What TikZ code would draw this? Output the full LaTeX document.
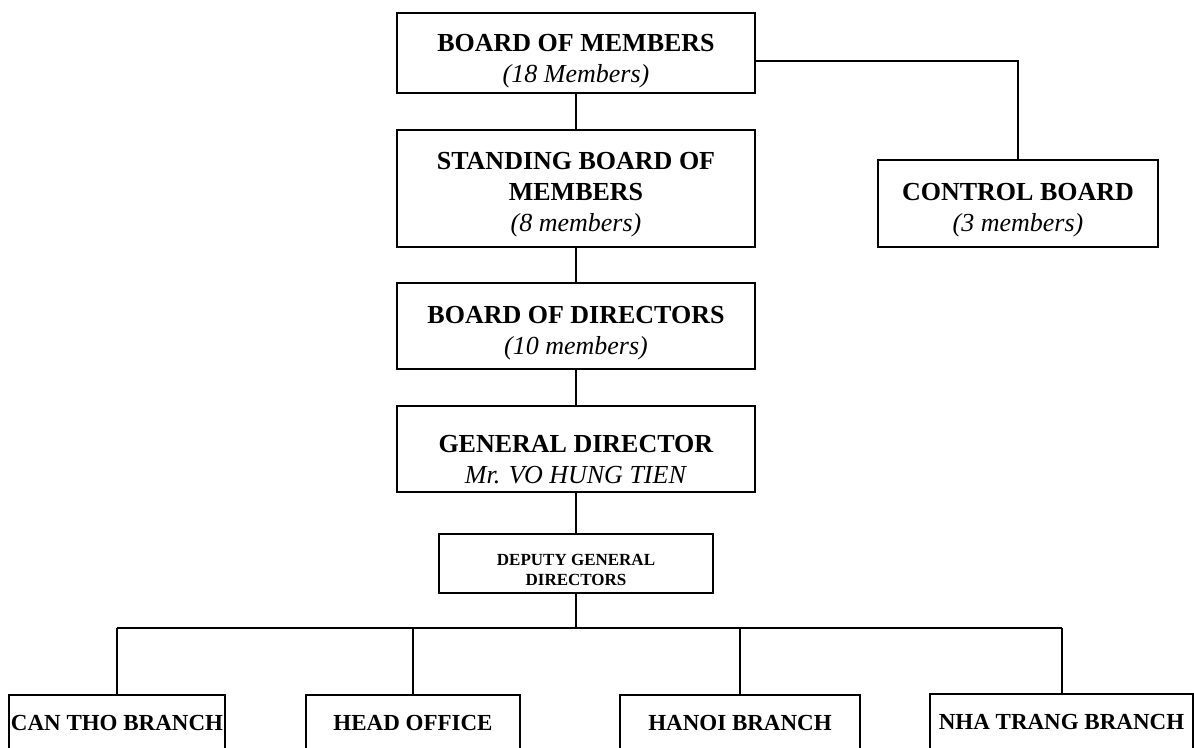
\documentclass[tikz,border=0pt]{standalone}
\usepackage{fontspec}
\setmainfont{Liberation Serif}
\usepackage{tikz}
\usetikzlibrary{positioning}

% strut that pushes the box text a little down
\newcommand{\boxgap}[1][17pt]{\rule{0pt}{#1}}

\tikzset{
	boardbox/.style={draw, line width=1pt, inner sep=0pt, align=center, minimum width=179pt, font=\fontsize{13}{15.5}\selectfont},
	branchbox/.style={draw, line width=1pt, inner sep=0pt, align=center, minimum height=28pt, font=\fontsize{11.5}{13}\selectfont\bfseries},
	link/.style={line width=1pt}
}

\begin{document}
\begin{tikzpicture}[x=0.5pt,y=-0.5pt]
		\clip (0,0) rectangle (1194,748);
		\fill[white] (0,0) rectangle (1194,748);

		\node[boardbox, minimum height=40pt] (bom) at (576,53) {\boxgap\textbf{BOARD OF MEMBERS}\\\textit{(18 Members)}};
		\node[boardbox, minimum height=58.5pt] (sbm) at (576,188.5) {\boxgap[15pt]\textbf{STANDING BOARD OF}\\\textbf{MEMBERS}\\\textit{(8 members)}};
		\node[boardbox, minimum height=43pt] (bod) at (576,326) {\boxgap[16pt]\textbf{BOARD OF DIRECTORS}\\\textit{(10 members)}};
		\node[boardbox, minimum height=43pt] (gd) at (576,449) {\boxgap[19pt]\textbf{GENERAL DIRECTOR}\\\textit{Mr. VO HUNG TIEN}};
		\node[boardbox, minimum width=137pt, minimum height=29.5pt, font=\fontsize{8.5}{10}\selectfont\bfseries] (dep) at (576,563.5) {\boxgap[12pt]DEPUTY GENERAL\\DIRECTORS};

		\node[boardbox, minimum width=140pt, minimum height=43.5pt] (ctl) at (1018,203.5) {\boxgap[15pt]\textbf{CONTROL BOARD}\\\textit{(3 members)}};

		\node[branchbox, minimum width=108pt] (can) at (117,723) {CAN THO BRANCH};
		\node[branchbox, minimum width=107pt] (head) at (413,723) {HEAD OFFICE};
		\node[branchbox, minimum width=120pt] (hanoi) at (740,723) {HANOI BRANCH};
		\node[branchbox, minimum width=131.5pt] (nha) at (1061.5,722) {NHA TRANG BRANCH};

		\coordinate (bar) at (579,628);

		\draw[link] (bom) -- (sbm);
		\draw[link] (sbm) -- (bod);
		\draw[link] (bod) -- (gd);
		\draw[link] (gd) -- (dep);
		\draw[link] ([yshift=-4pt]bom.east) -| (ctl.north);

		\draw[link] (dep.south) -- (dep.south |- bar);
		\draw[link] (can.north |- bar) -- (nha.north |- bar);
		\foreach \b in {can,head,hanoi,nha}
			\draw[link] (\b.north) -- (\b.north |- bar);
	\end{tikzpicture}
\end{document}
